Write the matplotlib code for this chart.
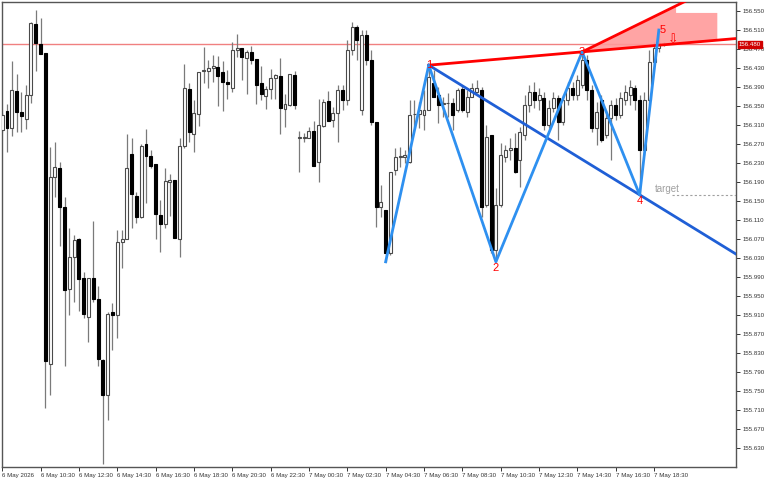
import numpy as np
import matplotlib
matplotlib.use("Agg")
from matplotlib import pyplot as plt

plt.rcParams['font.family'] = ['Liberation Sans', 'DejaVu Sans']

# 15 minute candles, 6 May 2026 08:30 -> 7 May 19:00
opens = [
    156.300, 156.340, 156.304, 156.382, 156.337, 156.323, 156.373, 156.523, 156.481, 156.462,
    155.807, 156.201, 156.220, 156.137, 155.965, 156.032, 156.070, 155.988, 155.906, 155.988,
    155.944, 155.815, 155.742, 155.916, 155.910, 156.064, 156.070, 156.249, 156.161, 156.116,
    156.270, 156.245, 156.228, 156.121, 156.102, 156.190, 156.194, 156.070, 156.266, 156.386,
    156.291, 156.333, 156.424, 156.424, 156.430, 156.432, 156.422, 156.401, 156.388, 156.468,
    156.472, 156.451, 156.464, 156.449, 156.398, 156.371, 156.386, 156.409, 156.413, 156.344,
    156.352, 156.415, 156.283, 156.283, 156.283, 156.297, 156.232, 156.308, 156.361, 156.321,
    156.335, 156.384, 156.363, 156.468, 156.516, 156.342, 156.499, 156.447, 156.317, 156.137,
    156.131, 156.041, 156.215, 156.243, 156.243, 156.232, 156.333, 156.333, 156.331, 156.342,
    156.398, 156.373, 156.354, 156.356, 156.356, 156.342, 156.386, 156.337, 156.369, 156.380,
    156.384, 156.142, 156.289, 156.047, 156.142, 156.243, 156.257, 156.262, 156.236, 156.289,
    156.352, 156.380, 156.363, 156.367, 156.310, 156.346, 156.367, 156.317, 156.363, 156.388,
    156.373, 156.394, 156.447, 156.384, 156.304, 156.363, 156.289, 156.325, 156.352, 156.331,
    156.363, 156.373, 156.388, 156.363, 156.257, 156.363, 156.443, 156.472, 156.481,
]
highs = [
    156.335, 156.354, 156.445, 156.417, 156.380, 156.394, 156.527, 156.552, 156.535, 156.462,
    156.264, 156.274, 156.232, 156.158, 156.093, 156.078, 156.072, 156.001, 155.988, 156.108,
    155.971, 155.817, 155.916, 155.935, 156.089, 156.089, 156.291, 156.283, 156.169, 156.270,
    156.302, 156.257, 156.228, 156.152, 156.220, 156.207, 156.194, 156.283, 156.438, 156.398,
    156.363, 156.422, 156.474, 156.447, 156.457, 156.455, 156.445, 156.426, 156.485, 156.502,
    156.472, 156.468, 156.476, 156.449, 156.434, 156.392, 156.428, 156.417, 156.451, 156.375,
    156.417, 156.424, 156.297, 156.293, 156.306, 156.318, 156.365, 156.365, 156.382, 156.348,
    156.394, 156.394, 156.489, 156.527, 156.520, 156.510, 156.510, 156.468, 156.317, 156.184,
    156.131, 156.211, 156.262, 156.264, 156.257, 156.363, 156.363, 156.359, 156.384, 156.436,
    156.426, 156.390, 156.369, 156.377, 156.367, 156.388, 156.394, 156.384, 156.398, 156.405,
    156.390, 156.310, 156.289, 156.177, 156.272, 156.268, 156.283, 156.293, 156.306, 156.373,
    156.394, 156.401, 156.388, 156.380, 156.363, 156.380, 156.373, 156.373, 156.401, 156.401,
    156.415, 156.464, 156.457, 156.394, 156.359, 156.373, 156.342, 156.363, 156.367, 156.380,
    156.394, 156.405, 156.394, 156.373, 156.380, 156.468, 156.485, 156.510, 156.485,
]
lows = [
    156.295, 156.253, 156.287, 156.295, 156.295, 156.302, 156.356, 156.424, 156.460, 155.714,
    155.742, 156.158, 156.055, 155.803, 155.910, 155.937, 155.918, 155.904, 155.853, 155.937,
    155.803, 155.596, 155.689, 155.837, 155.862, 156.009, 156.070, 156.093, 156.104, 156.114,
    156.146, 156.220, 156.070, 156.043, 156.093, 156.118, 156.072, 156.032, 156.262, 156.274,
    156.253, 156.308, 156.398, 156.388, 156.401, 156.350, 156.340, 156.365, 156.380, 156.453,
    156.405, 156.375, 156.438, 156.354, 156.363, 156.344, 156.365, 156.365, 156.291, 156.306,
    156.350, 156.344, 156.211, 156.274, 156.283, 156.224, 156.190, 156.306, 156.318, 156.306,
    156.274, 156.342, 156.352, 156.457, 156.447, 156.331, 156.436, 156.310, 156.095, 156.116,
    156.022, 156.036, 156.205, 156.222, 156.230, 156.230, 156.306, 156.304, 156.300, 156.342,
    156.369, 156.314, 156.327, 156.327, 156.300, 156.337, 156.337, 156.327, 156.369, 156.377,
    156.116, 156.137, 156.041, 156.022, 156.137, 156.232, 156.236, 156.209, 156.180, 156.279,
    156.337, 156.346, 156.342, 156.300, 156.304, 156.337, 156.279, 156.310, 156.352, 156.363,
    156.363, 156.388, 156.363, 156.295, 156.268, 156.274, 156.283, 156.236, 156.321, 156.325,
    156.352, 156.352, 156.342, 156.163, 156.247, 156.352, 156.434, 156.464, 156.476,
]
closes = [
    156.331, 156.304, 156.384, 156.337, 156.329, 156.373, 156.525, 156.483, 156.460, 155.813,
    156.201, 156.222, 156.137, 155.963, 156.032, 156.068, 155.986, 155.912, 155.988, 155.944,
    155.817, 155.742, 155.912, 155.910, 156.064, 156.070, 156.220, 156.165, 156.116, 156.266,
    156.245, 156.224, 156.123, 156.102, 156.192, 156.194, 156.072, 156.266, 156.388, 156.295,
    156.335, 156.422, 156.426, 156.430, 156.434, 156.413, 156.401, 156.396, 156.468, 156.472,
    156.453, 156.464, 156.447, 156.394, 156.375, 156.386, 156.409, 156.415, 156.346, 156.354,
    156.417, 156.352, 156.283, 156.283, 156.297, 156.224, 156.310, 156.358, 156.318, 156.335,
    156.384, 156.363, 156.468, 156.516, 156.489, 156.499, 156.447, 156.317, 156.137, 156.148,
    156.041, 156.211, 156.243, 156.243, 156.247, 156.331, 156.333, 156.342, 156.342, 156.411,
    156.369, 156.352, 156.356, 156.356, 156.331, 156.384, 156.342, 156.369, 156.388, 156.388,
    156.137, 156.285, 156.047, 156.142, 156.247, 156.257, 156.262, 156.211, 156.295, 156.352,
    156.380, 156.363, 156.373, 156.310, 156.346, 156.367, 156.317, 156.363, 156.388, 156.373,
    156.405, 156.447, 156.384, 156.304, 156.337, 156.279, 156.325, 156.352, 156.331, 156.367,
    156.380, 156.390, 156.363, 156.257, 156.363, 156.443, 156.472, 156.483, 156.480,
]

tick_labels = ['6 May 2026', '6 May 10:30', '6 May 12:30', '6 May 14:30', '6 May 16:30',
               '6 May 18:30', '6 May 20:30', '6 May 22:30', '7 May 00:30', '7 May 02:30',
               '7 May 04:30', '7 May 06:30', '7 May 08:30', '7 May 10:30', '7 May 12:30',
               '7 May 14:30', '7 May 16:30', '7 May 18:30']
price_ticks = np.round(np.arange(155.630, 156.551, 0.04), 3)

# zigzag pivots (candle index) - low, high, low, high, low, high
zz_idx = [80, 89, 103, 121, 133, 137]
zz_kind = ['L', 'H', 'L', 'H', 'L', 'H']
current_price = 156.480

o = np.array(opens); h = np.array(highs); l = np.array(lows); c = np.array(closes)
x = np.arange(len(o))
zz_price = [l[i] if k == 'L' else h[i] for i, k in zip(zz_idx, zz_kind)]

fig = plt.figure(figsize=(7.68, 4.8), dpi=100)
ax = fig.add_axes([1.5 / 768, 13 / 480, 734.5 / 768, 465 / 480])
ymin, ymax = 155.590, 156.569
ax.set_xlim(-0.15, 153.1)
ax.set_ylim(ymin, ymax)

# candles
up = c >= o
ax.vlines(x, l, h, color='#7a7a7a', linewidth=0.9, zorder=2)
body_lo = np.minimum(o, c)
body_h = np.maximum(np.abs(c - o), 0.0009)
ax.bar(x[up], body_h[up], bottom=body_lo[up], width=0.62, color='white',
       edgecolor='#4a4a4a', linewidth=0.8, zorder=3)
ax.bar(x[~up], body_h[~up], bottom=body_lo[~up], width=0.62, color='black',
       edgecolor='black', linewidth=0.8, zorder=3)

# current price line
ax.axhline(current_price, color='#f08080', linewidth=1.0, zorder=1)

# red wedge lines and fill
p1, p3 = zz_idx[1], zz_idx[3]
s_low = (zz_price[3] - zz_price[1]) / (p3 - p1)
x_end = 153.1
ax.plot([p1, x_end], [zz_price[1], zz_price[1] + s_low * (x_end - p1)], color='red', lw=2, zorder=5)
s_up = 0.00495
ax.plot([p3, 144], [zz_price[3], zz_price[3] + s_up * (144 - p3)], color='red', lw=2, zorder=5)
xa, xb = 140.6, 149.2
poly_x = [p3, xa, xa, xb, xb, p3]
poly_y = [zz_price[3], zz_price[3] + s_up * (xa - p3), 156.546, 156.546,
          zz_price[1] + s_low * (xb - p1), zz_price[3]]
ax.fill(poly_x, poly_y, color='#ff9a9a', alpha=0.9, lw=0, zorder=4)

# blue trend line through pivots 1 and 4
p4 = zz_idx[4]
s_b = (zz_price[4] - zz_price[1]) / (p4 - p1)
ax.plot([p1, x_end], [zz_price[1], zz_price[1] + s_b * (x_end - p1)], color='#1f5fd6', lw=2, zorder=5)

# zigzag
ax.plot(zz_idx, zz_price, color='#2e90f0', lw=2, zorder=6)

# pivot numbers
num_off = [(0, 0), (0, -0.012), (0, 0), (0, -0.014), (0.8, 0.0)]
for n in range(1, 6):
    dx, dy = num_off[n - 1]
    ax.text(zz_idx[n] + dx, zz_price[n] + dy, str(n), color='red', fontsize=8,
            ha='center', va='center', zorder=7)

# target
ax.plot([139.8, x_end], [zz_price[4], zz_price[4]], color='#a0a0a0', lw=0.8,
        linestyle=(0, (2, 2)), zorder=5)
ax.text(136.2, zz_price[4] + 0.013, 'target', color='#a0a0a0', fontsize=7,
        va='center', ha='left', zorder=7)
ax.text(140.0, 156.488, '\u21e9', color='red', fontsize=9, ha='center', va='center',
        family='DejaVu Sans', zorder=7)

# axes look
for sp in ['top', 'bottom', 'left', 'right']:
    ax.spines[sp].set_color('#555555')
    ax.spines[sp].set_linewidth(1)
ax.yaxis.tick_right()
ax.set_yticks(price_ticks)
ax.set_yticklabels([f'{v:.3f}' for v in price_ticks])
ax.set_xticks(np.arange(0, 8 * len(tick_labels), 8))
ax.set_xticklabels(tick_labels, ha='left')
ax.tick_params(axis='both', labelsize=4.4, colors='#333333', length=3, width=0.7, pad=1.5)

ax.text(1.004, (current_price - ymin) / (ymax - ymin), f'{current_price:.3f}',
        transform=ax.transAxes, fontsize=4.4, color='white', va='center', ha='left',
        bbox=dict(boxstyle='square,pad=0.2', facecolor='#d00000', edgecolor='#d00000'),
        zorder=8, clip_on=False)

fig.savefig('out.png', dpi=100)
